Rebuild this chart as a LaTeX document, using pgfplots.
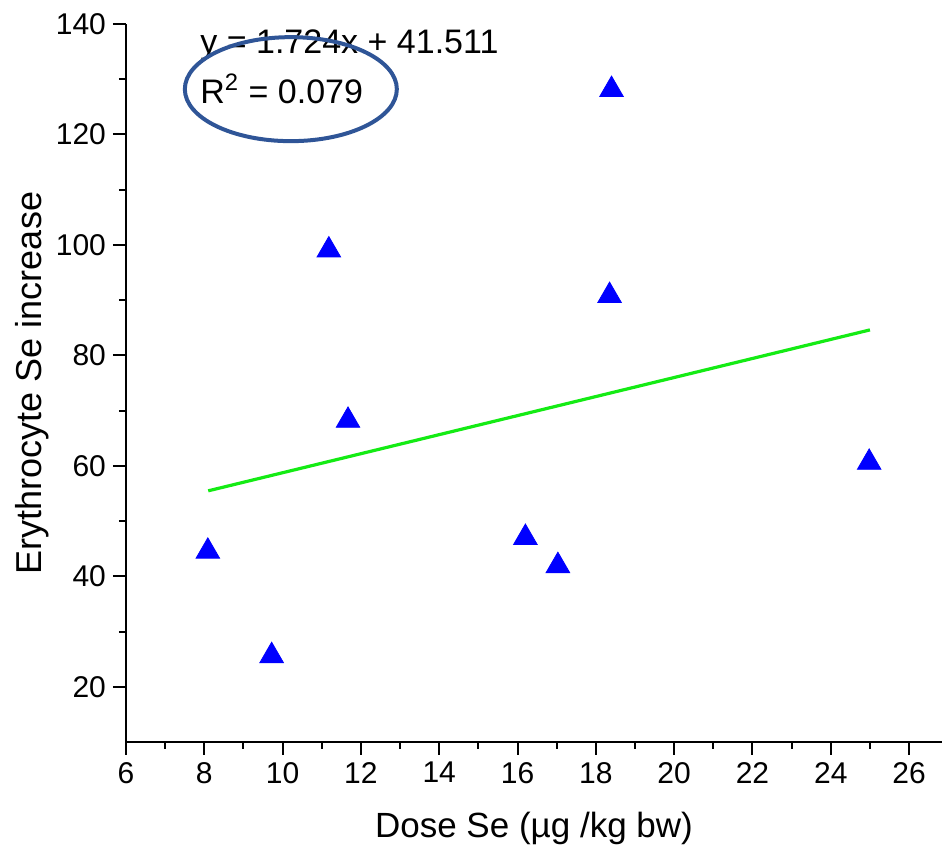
\documentclass[border=0pt]{standalone}
\usepackage{fontspec}
\setmainfont{Liberation Sans}
\usepackage{pgfplots}
\pgfplotsset{compat=1.18}
\usetikzlibrary{calc}
\definecolor{ptblue}{RGB}{0,0,255}
\definecolor{fitgreen}{RGB}{20,235,20}
\definecolor{ovalblue}{RGB}{47,85,151}
\begin{document}
\begin{tikzpicture}
\begin{axis}[
  scale only axis,
  width=408pt, height=359pt,
  xmin=6, xmax=26.84, ymin=10, ymax=140,
  axis x line*=bottom, axis y line*=left,
  axis line style={line width=1.2pt, black, -},
  xtick={6,8,...,26}, ytick={20,40,...,140},
  minor x tick num=1, minor y tick num=1,
  tick align=outside,
  major tick length=6.5pt, minor tick length=3.5pt,
  every tick/.style={line width=1pt, black},
  /pgf/number format/assume math mode=true,
  ticklabel style={font=\fontsize{15}{18}\selectfont},
  xlabel={Dose Se (µg /kg bw)},
  ylabel={Erythrocyte Se increase},
  xlabel style={font=\fontsize{17.5}{21}\selectfont, at={(axis description cs:0.5,-0.1198)}, anchor=center},
  ylabel style={font=\fontsize{18}{22}\selectfont, at={(axis description cs:-0.1145,0.5)}, anchor=center, rotate=0},
  clip=false,
]
\addplot[fitgreen, line width=1.6pt] coordinates {(8.1,55.475) (25,84.611)};
\addplot[only marks, mark=triangle*, mark size=6.8pt, ptblue, mark options={draw=ptblue, fill=ptblue}] coordinates {
  (8.09,44.5)
  (9.72,25.6)
  (11.18,99.05)
  (11.67,68.2)
  (16.2,47.0)
  (17.03,41.9)
  (18.35,90.8)
  (18.40,128.1)
  (24.98,60.6)
};
\node[anchor=base west, inner sep=0pt, font=\fontsize{17}{20}\selectfont] at (axis cs:7.89,134.7) {y = 1.724x + 41.511};
\node[anchor=base west, inner sep=0pt, font=\fontsize{17}{20}\selectfont] at (axis cs:7.89,125.6) {R\textsuperscript{2} = 0.079};
\draw[ovalblue, line width=2pt] (axis cs:10.21,128.2) ellipse [x radius=53pt, y radius=26pt];
\coordinate (sw) at (rel axis cs:0,0);
\coordinate (ne) at (rel axis cs:1,1);
\end{axis}
\pgfresetboundingbox
\path[use as bounding box] ($(sw)+(-63pt,-56pt)$) rectangle ($(ne)+(0pt,12pt)$);
\end{tikzpicture}
\end{document}
